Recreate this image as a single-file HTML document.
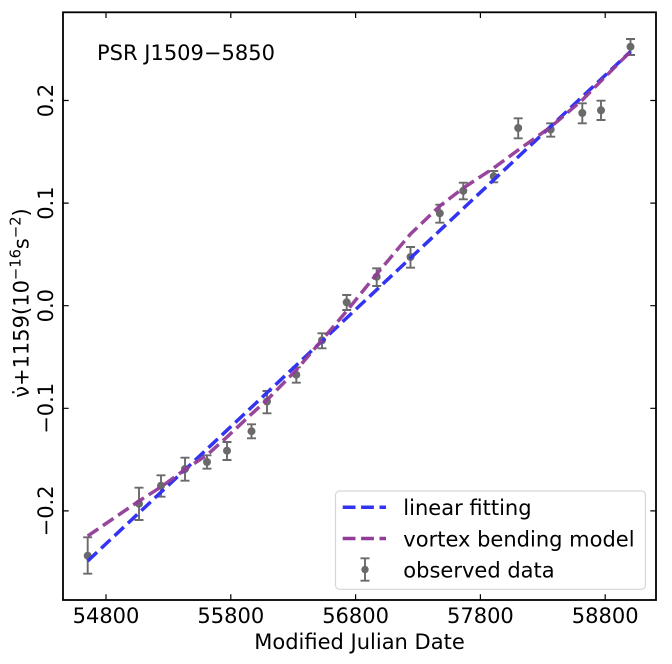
<!DOCTYPE html>
<html>
<head>
<meta charset="utf-8">
<style>
  html, body { margin: 0; padding: 0; background: #ffffff; }
  svg { display: block; }
  text { font-family: "DejaVu Sans", "Liberation Sans", sans-serif; fill: #000; }
</style>
</head>
<body>
<svg width="672" height="664" viewBox="0 0 672 664" xmlns="http://www.w3.org/2000/svg">
  <rect x="0" y="0" width="672" height="664" fill="#ffffff"/>

  <!-- error bars -->
  <g stroke="#6a6a6a" stroke-width="1.9" fill="none">
    <path d="M87.7 537.3V573.7M83.2 537.3H92.2M83.2 573.7H92.2"/>
    <path d="M139 487.7V520M134.5 487.7H143.5M134.5 520H143.5"/>
    <path d="M161 475.3V496.7M156.5 475.3H165.5M156.5 496.7H165.5"/>
    <path d="M185 457.7V480.7M180.5 457.7H189.5M180.5 480.7H189.5"/>
    <path d="M207 455.3V468.7M202.5 455.3H211.5M202.5 468.7H211.5"/>
    <path d="M227 442V460M222.5 442H231.5M222.5 460H231.5"/>
    <path d="M251.5 424.3V438.3M247 424.3H256M247 438.3H256"/>
    <path d="M267 391V413.3M262.5 391H271.5M262.5 413.3H271.5"/>
    <path d="M296.3 367.3V382.7M291.8 367.3H300.8M291.8 382.7H300.8"/>
    <path d="M322 333.3V348.3M317.5 333.3H326.5M317.5 348.3H326.5"/>
    <path d="M346.7 295V310M342.2 295H351.2M342.2 310H351.2"/>
    <path d="M376.7 268.3V286M372.2 268.3H381.2M372.2 286H381.2"/>
    <path d="M410.5 247V267.7M406 247H415M406 267.7H415"/>
    <path d="M439.8 204.7V222.7M435.3 204.7H444.3M435.3 222.7H444.3"/>
    <path d="M463.3 182.7V199.3M458.8 182.7H467.8M458.8 199.3H467.8"/>
    <path d="M493.7 171V182.3M489.2 171H498.2M489.2 182.3H498.2"/>
    <path d="M518.2 118.3V138.3M513.7 118.3H522.7M513.7 138.3H522.7"/>
    <path d="M550.7 123.3V136.7M546.2 123.3H555.2M546.2 136.7H555.2"/>
    <path d="M582.3 103.3V123.3M577.8 103.3H586.8M577.8 123.3H586.8"/>
    <path d="M601 100.7V120M596.5 100.7H605.5M596.5 120H605.5"/>
    <path d="M630.5 39V55M626 39H635M626 55H635"/>
  </g>
  <g fill="#6a6a6a">
    <circle cx="87.7" cy="555.7" r="4"/>
    <circle cx="139" cy="503.7" r="4"/>
    <circle cx="161" cy="485.7" r="4"/>
    <circle cx="185" cy="469" r="4"/>
    <circle cx="207" cy="462" r="4"/>
    <circle cx="227" cy="450.7" r="4"/>
    <circle cx="251.5" cy="431.2" r="4"/>
    <circle cx="267" cy="401.5" r="4"/>
    <circle cx="296.3" cy="374.7" r="4"/>
    <circle cx="322" cy="340.3" r="4"/>
    <circle cx="346.7" cy="302.3" r="4"/>
    <circle cx="376.7" cy="276.7" r="4"/>
    <circle cx="410.5" cy="257" r="4"/>
    <circle cx="439.8" cy="213.3" r="4"/>
    <circle cx="463.3" cy="190.8" r="4"/>
    <circle cx="493.7" cy="176.3" r="4"/>
    <circle cx="518.2" cy="128" r="4"/>
    <circle cx="550.7" cy="129.5" r="4"/>
    <circle cx="582.3" cy="113" r="4"/>
    <circle cx="601" cy="110.3" r="4"/>
    <circle cx="630.5" cy="46.7" r="4"/>
  </g>

  <!-- linear fitting -->
  <path d="M87.7 561 L630.5 51.5" stroke="#3333f2" stroke-width="3.5" fill="none" stroke-dasharray="12.8 5.6"/>
  <!-- vortex bending model -->
  <polyline points="87.7,536 139,501 161,487 185,469.5 207,455 227,437 251.5,414 267,400 296.3,370 322,340 346.7,311 376.7,274 410.5,234 439.8,206 463.3,188 493.7,168 518.2,150 550.7,127 582.3,100 601,81 630.5,51.5"
    stroke="#913c97" stroke-width="3.5" fill="none" stroke-dasharray="12.8 5.6" stroke-linejoin="round" opacity="0.95"/>

  <!-- axes frame -->
  <rect x="63" y="12.3" width="593" height="587.7" fill="none" stroke="#000" stroke-width="1.8"/>

  <!-- ticks (inward, all sides) -->
  <g stroke="#000" stroke-width="1.2">
    <path d="M106 600V594.3M230.8 600V594.3M355.6 600V594.3M480.4 600V594.3M605.2 600V594.3"/>
    <path d="M106 12.3V18M230.8 12.3V18M355.6 12.3V18M480.4 12.3V18M605.2 12.3V18"/>
    <path d="M63 100.5H68.7M63 203.1H68.7M63 305.7H68.7M63 408.3H68.7M63 510.9H68.7"/>
    <path d="M656 100.5H650.3M656 203.1H650.3M656 305.7H650.3M656 408.3H650.3M656 510.9H650.3"/>
  </g>

  <!-- x tick labels -->
  <g font-size="21" text-anchor="middle">
    <text x="106" y="623">54800</text>
    <text x="230.8" y="623">55800</text>
    <text x="355.6" y="623">56800</text>
    <text x="480.4" y="623">57800</text>
    <text x="605.2" y="623">58800</text>
  </g>
  <!-- y tick labels (rotated) -->
  <g font-size="21" text-anchor="middle">
    <text transform="translate(53,100.5) rotate(-90)">0.2</text>
    <text transform="translate(53,203.1) rotate(-90)">0.1</text>
    <text transform="translate(53,305.7) rotate(-90)">0.0</text>
    <text transform="translate(53,408.3) rotate(-90)">−0.1</text>
    <text transform="translate(53,510.9) rotate(-90)">−0.2</text>
  </g>

  <!-- axis labels -->
  <text x="359.5" y="649" font-size="21" text-anchor="middle">Modified Julian Date</text>
  <text transform="translate(28.5,303) rotate(-90)" font-size="21" text-anchor="middle">ν̇+1159(10<tspan font-size="14.7" dy="-8">−16</tspan><tspan dy="8">s</tspan><tspan font-size="14.7" dy="-8">−2</tspan><tspan dy="8">)</tspan></text>

  <!-- title annotation -->
  <text x="97" y="60" font-size="21">PSR J1509−5850</text>

  <!-- legend -->
  <rect x="335.5" y="491" width="310" height="98.3" rx="4" ry="4" fill="#ffffff" fill-opacity="0.8" stroke="#d6d6d6" stroke-width="1.2"/>
  <path d="M342.7 507.3H386" stroke="#3333f2" stroke-width="3.5" stroke-dasharray="12.8 5.6"/>
  <path d="M342.7 538.5H386" stroke="#913c97" stroke-width="3.5" stroke-dasharray="12.8 5.6"/>
  <path d="M365 558.3V580.7M360.5 558.3H369.5M360.5 580.7H369.5" stroke="#6a6a6a" stroke-width="1.9" fill="none"/>
  <circle cx="365" cy="569.5" r="3.7" fill="#6a6a6a"/>
  <g font-size="21">
    <text x="403.3" y="515">linear fitting</text>
    <text x="403.3" y="546.5">vortex bending model</text>
    <text x="403.3" y="577.5">observed data</text>
  </g>
</svg>
</body>
</html>
